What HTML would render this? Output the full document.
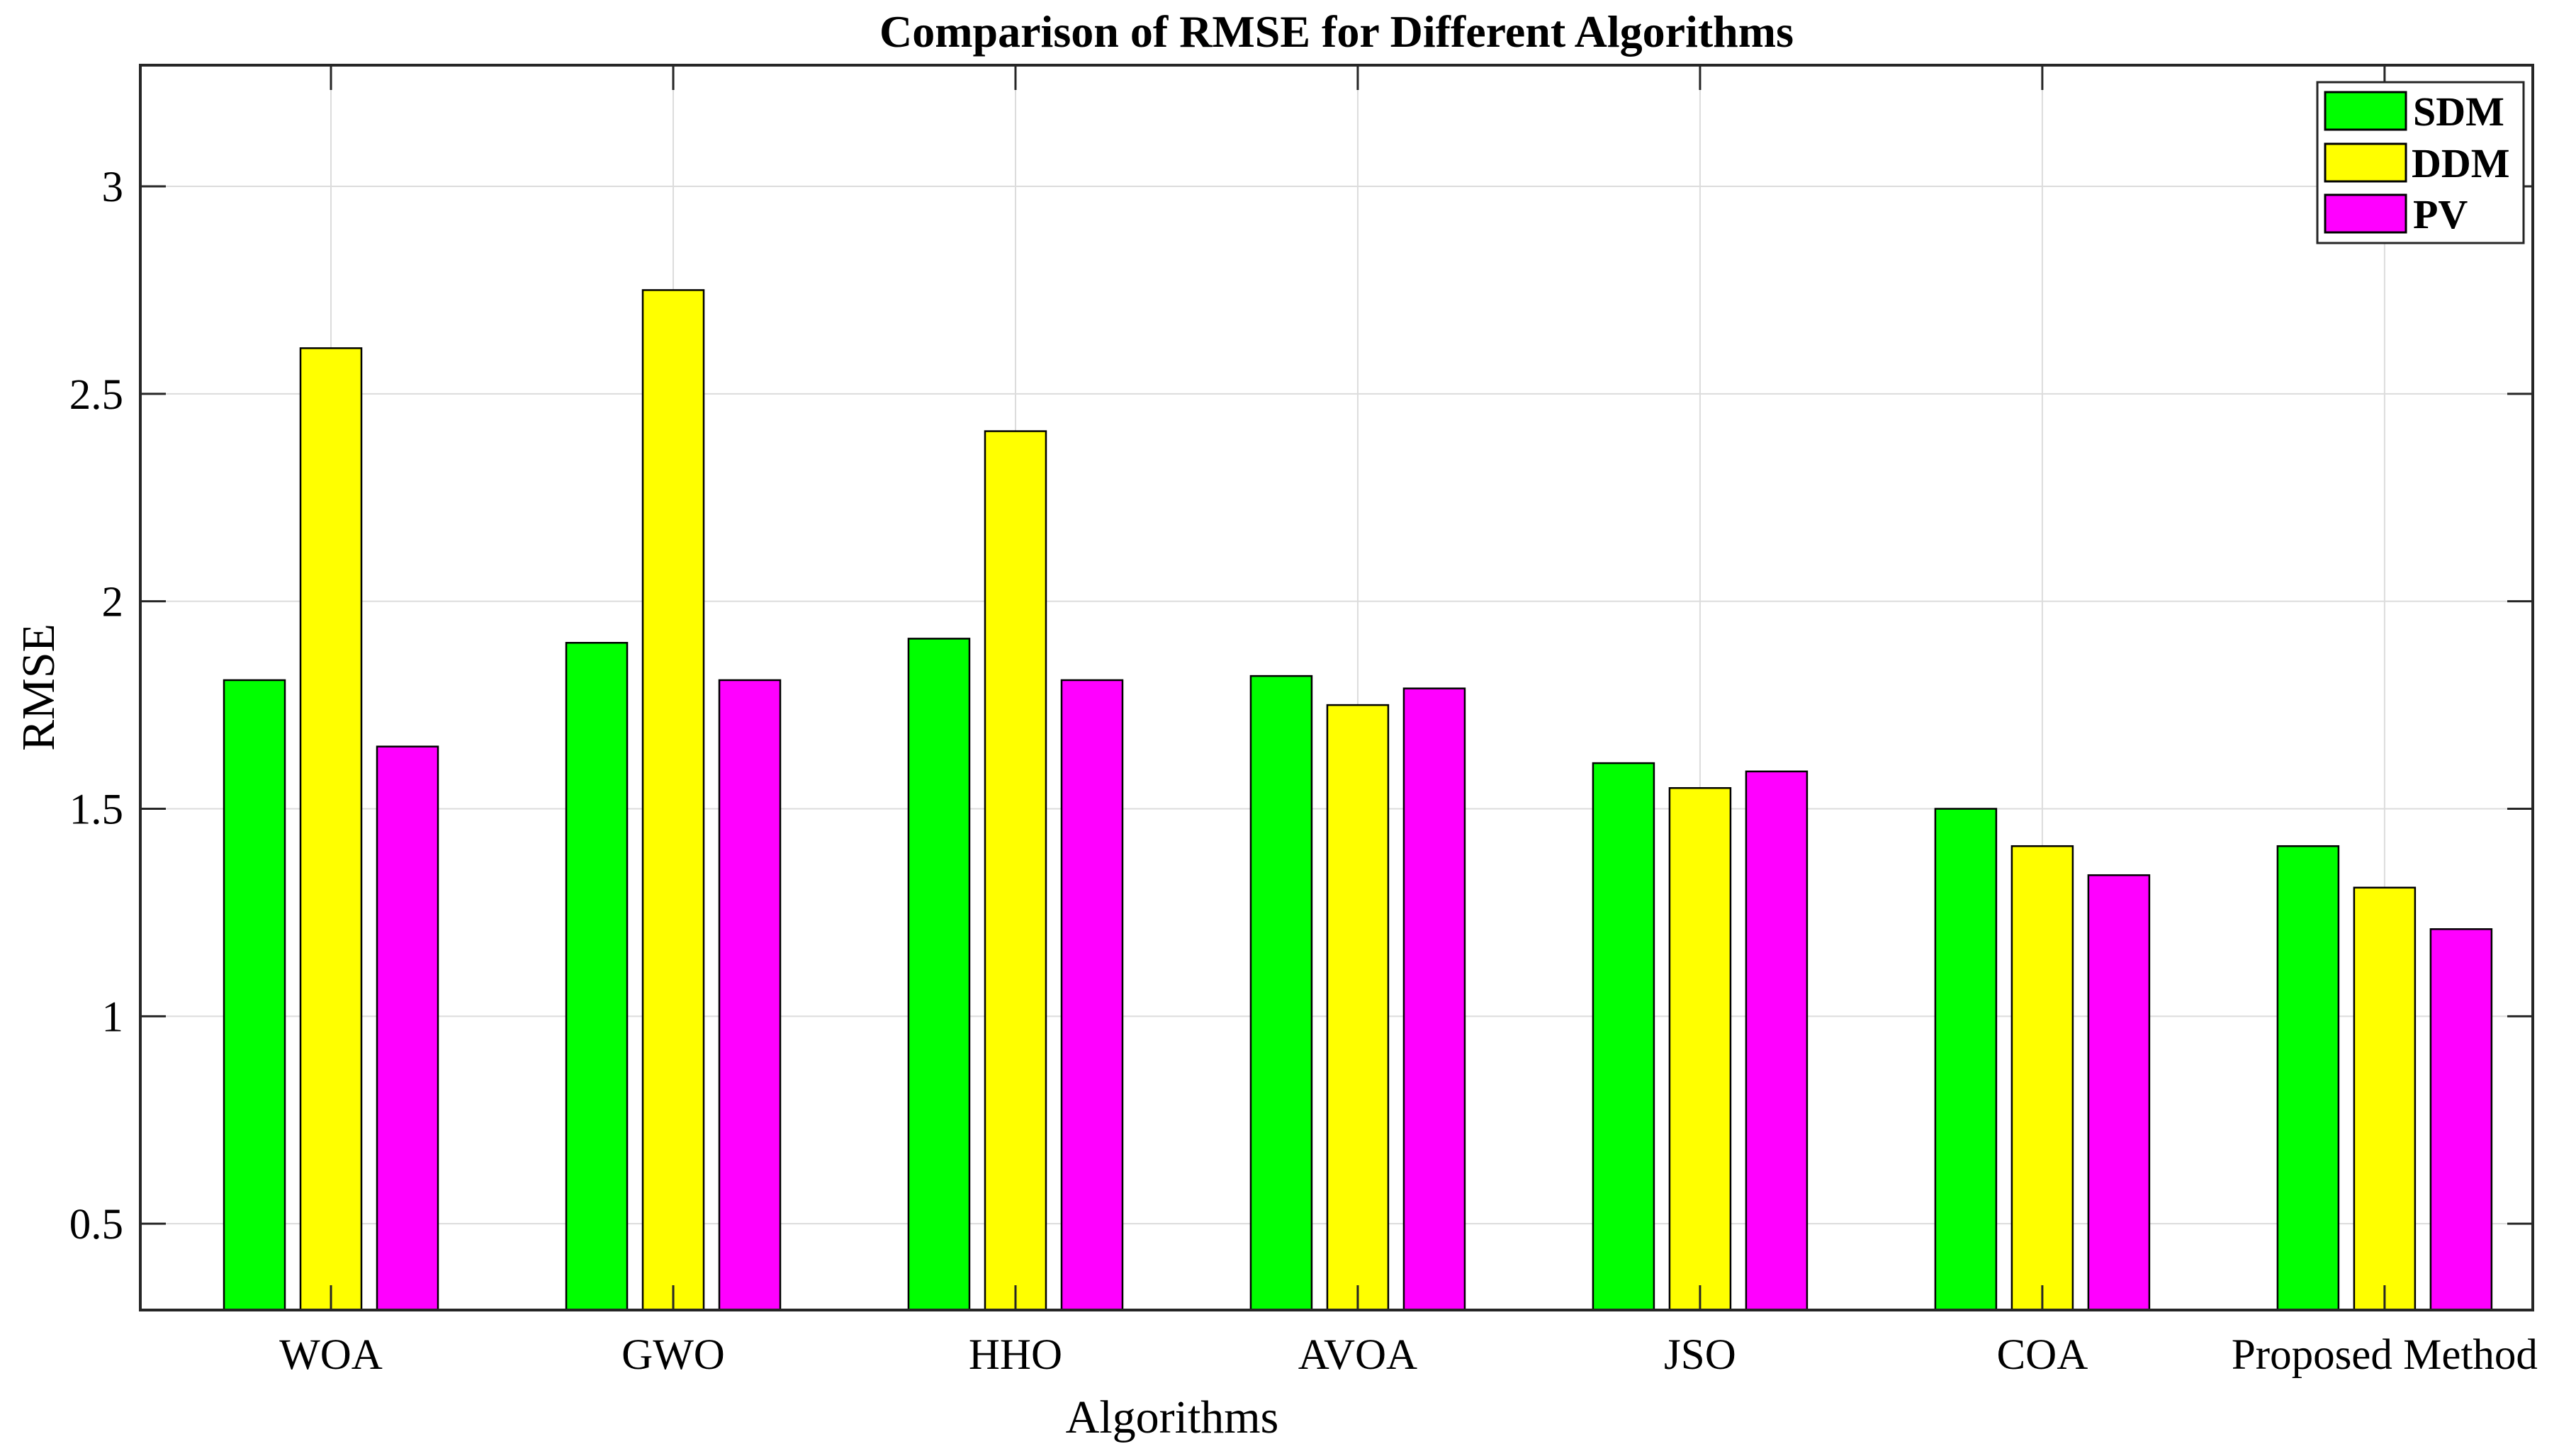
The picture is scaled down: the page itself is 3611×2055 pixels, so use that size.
<!DOCTYPE html>
<html><head><meta charset="utf-8"><style>
html,body{margin:0;padding:0;background:#fff;}
svg{display:block;font-family:"Liberation Serif",serif;}
</style></head><body>
<svg id="chart" width="3611" height="2055" viewBox="0 0 3611 2055" xmlns="http://www.w3.org/2000/svg">
<rect width="3611" height="2055" fill="#fff"/>
<g id="grid"></g>
<g id="bars"></g>
<g id="axes"></g>
<text x="1886" y="66" font-size="64" font-weight="bold" text-anchor="middle">Comparison of RMSE for Different Algorithms</text>
<text x="1654" y="2022" font-size="66" text-anchor="middle">Algorithms</text>
<text transform="translate(76,970) rotate(-90)" font-size="66" text-anchor="middle">RMSE</text>
<g>
<rect x="3270" y="116" width="291" height="227" fill="#fff" stroke="#262626" stroke-width="3"/>
<rect x="3281" y="130" width="114" height="53" fill="#00ff00" stroke="#000" stroke-width="3"/>
<text x="3405" y="177" font-size="58" font-weight="bold">SDM</text>
<rect x="3281" y="203" width="114" height="53" fill="#ffff00" stroke="#000" stroke-width="3"/>
<text x="3403" y="250" font-size="58" font-weight="bold">DDM</text>
<rect x="3281" y="275" width="114" height="53" fill="#ff00ff" stroke="#000" stroke-width="3"/>
<text x="3405" y="322" font-size="58" font-weight="bold">PV</text>
</g>
</svg>
<script>
const categories = ["WOA","GWO","HHO","AVOA","JSO","COA","Proposed Method"];
const sdm = [1.81,1.90,1.91,1.82,1.61,1.50,1.41];
const ddm = [2.61,2.75,2.41,1.75,1.55,1.41,1.31];
const pv = [1.65,1.81,1.81,1.79,1.59,1.34,1.21];
const yTicks = [0.5,1,1.5,2,2.5,3];
const yTickLabels = ["0.5","1","1.5","2","2.5","3"];

const NS="http://www.w3.org/2000/svg";
const L=198,R=3574,T=92,B=1849;
const xMin=0.443,xMax=7.433,yMin=0.292,yMax=3.292;
const xs=v=>L+(v-xMin)/(xMax-xMin)*(R-L);
const ys=v=>B-(v-yMin)/(yMax-yMin)*(B-T);
function mk(tag,attrs,parent){const e=document.createElementNS(NS,tag);for(const k in attrs)e.setAttribute(k,attrs[k]);parent.appendChild(e);return e;}
const grid=document.getElementById('grid'),bars=document.getElementById('bars'),axes=document.getElementById('axes');
yTicks.forEach((t,i)=>{
  const y=ys(t);
  const g=mk('line',{x1:L,x2:R,y1:y,y2:y,stroke:'#dcdcdc','stroke-width':2},grid);
  
  
  const tk=mk('line',{x1:L,x2:L+36,y1:y,y2:y,stroke:'#262626','stroke-width':3},axes);
  
  
  const tk2=mk('line',{x1:R-36,x2:R,y1:y,y2:y,stroke:'#262626','stroke-width':3},axes);
  
  
  const tx=mk('text',{x:L-24,y:y+21,'font-size':61,'text-anchor':'end'},axes);
  tx.textContent=yTickLabels[i];
  
  
});
const series=[sdm,ddm,pv],colors=['#00ff00','#ffff00','#ff00ff'],names=['sdm','ddm','pv'];
const bw=86,off=108;
categories.forEach((c,i)=>{
  const cx=xs(i+1);
  const g=mk('line',{x1:cx,x2:cx,y1:T,y2:B,stroke:'#dcdcdc','stroke-width':2},grid);
  
  
  series.forEach((s,j)=>{
    const x=cx+(j-1)*off-bw/2,y=ys(s[i]);
    const r=mk('rect',{x:x,y:y,width:bw,height:B-y,fill:colors[j],stroke:'#000','stroke-width':2.5},bars);
    
    
  });
  const t1=mk('line',{x1:cx,x2:cx,y1:B,y2:B-35,stroke:'#262626','stroke-width':3},axes);
  
  
  const t2=mk('line',{x1:cx,x2:cx,y1:T,y2:T+35,stroke:'#262626','stroke-width':3},axes);
  
  
  const tx=mk('text',{x:cx,y:1932,'font-size':61,'text-anchor':'middle'},axes);
  tx.textContent=c;
  
  
});
const box=mk('rect',{x:L,y:T,width:R-L,height:B-T,fill:'none',stroke:'#262626','stroke-width':4},axes);


</script>
</body></html>
